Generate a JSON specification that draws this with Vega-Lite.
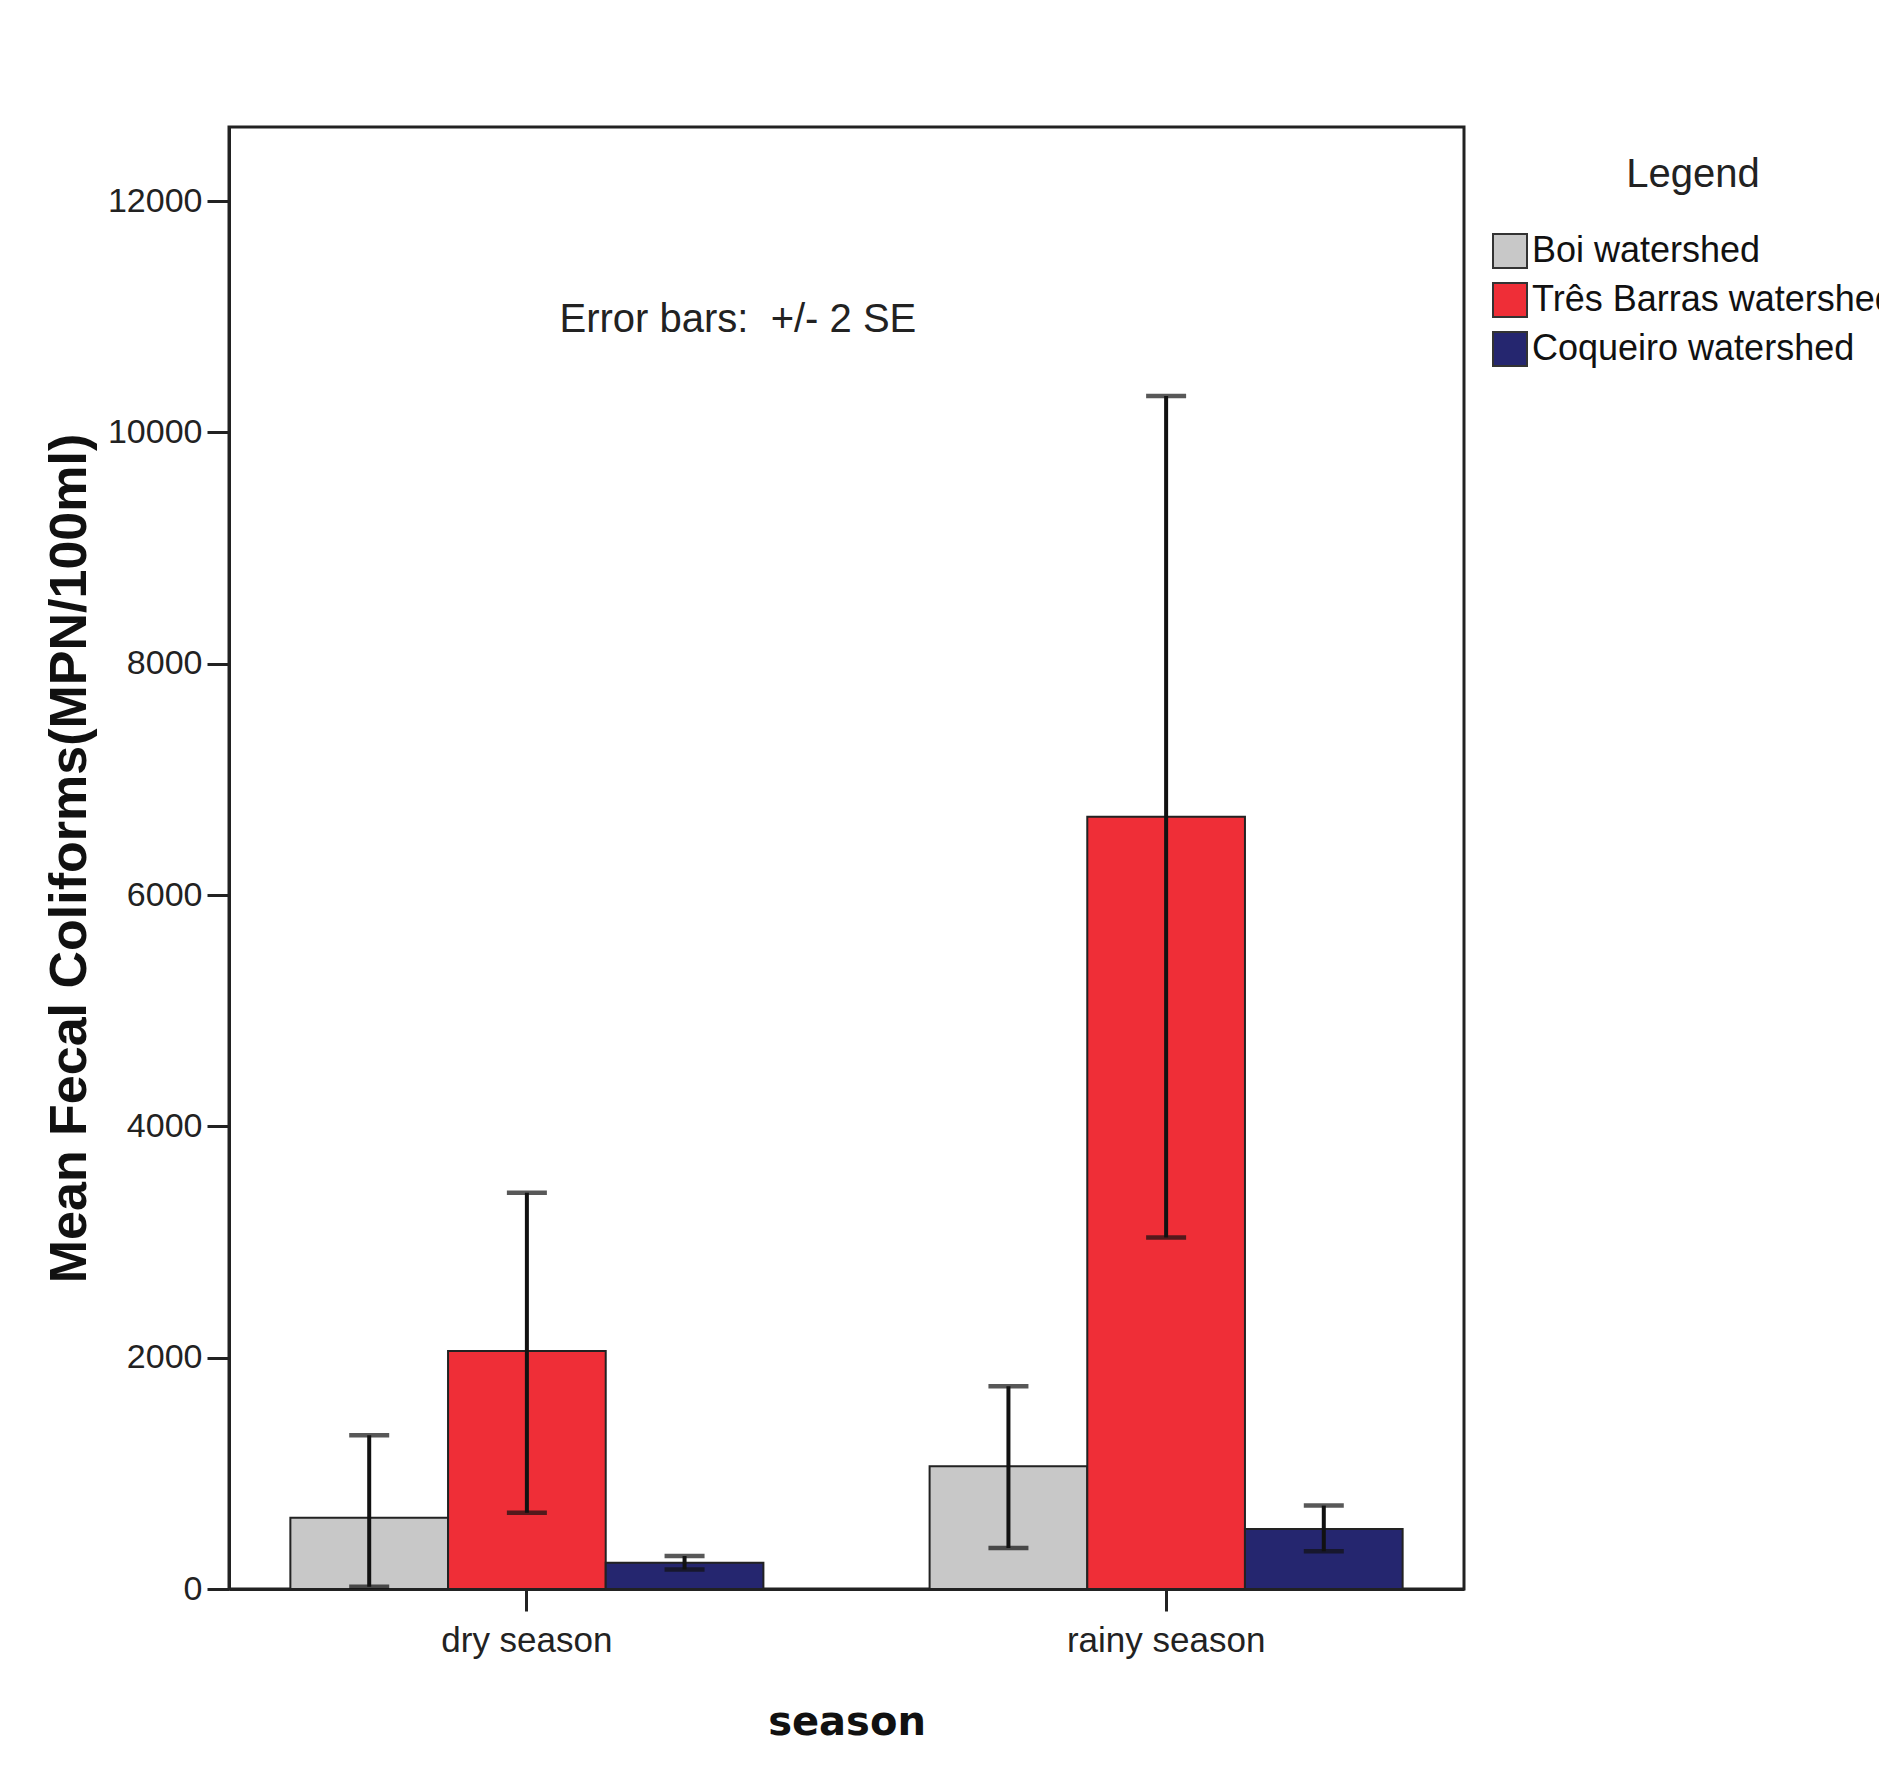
{
  "$schema": "https://vega.github.io/schema/vega-lite/v6.json",
  "width": 1235,
  "height": 1462,
  "autosize": {"type": "none"},
  "padding": {"left": 229, "top": 127, "right": 415, "bottom": 179},
  "background": "white",
  "config": {
    "view": {"stroke": "#222", "strokeWidth": 3},
    "font": "Liberation Sans",
    "axis": {"labelColor": "#222", "titleColor": "#111", "domainColor": "#222", "tickColor": "#222", "grid": false}
  },
  "data": {
    "values": [
      {"season": "dry season", "watershed": "Boi watershed", "mean": 616, "lower": 20, "upper": 1329},
      {"season": "dry season", "watershed": "Três Barras watershed", "mean": 2058, "lower": 660, "upper": 3426},
      {"season": "dry season", "watershed": "Coqueiro watershed", "mean": 227, "lower": 169, "upper": 285},
      {"season": "rainy season", "watershed": "Boi watershed", "mean": 1061, "lower": 354, "upper": 1752},
      {"season": "rainy season", "watershed": "Três Barras watershed", "mean": 6677, "lower": 3040, "upper": 10314},
      {"season": "rainy season", "watershed": "Coqueiro watershed", "mean": 519, "lower": 326, "upper": 721}
    ]
  },
  "encoding": {
    "x": {
      "field": "season", "type": "nominal",
      "scale": {"paddingInner": 0.26, "paddingOuter": 0.096},
      "axis": {
        "title": "season", "labelAngle": 0,
        "labelFontSize": 35, "labelPadding": 12, "labelLimit": 0,
        "tickSize": 22, "tickWidth": 3, "domainWidth": 3,
        "titleFont": "DejaVu Sans", "titleFontWeight": "bold", "titleFontSize": 40, "titlePadding": 44
      }
    },
    "xOffset": {
      "field": "watershed", "type": "nominal",
      "scale": {"domain": ["Boi watershed", "Três Barras watershed", "Coqueiro watershed"]}
    }
  },
  "layer": [
    {
      "mark": {"type": "bar", "stroke": "#222", "strokeWidth": 2},
      "encoding": {
        "y": {
          "field": "mean", "type": "quantitative",
          "scale": {"domain": [0, 12640], "nice": false},
          "axis": {
            "title": "Mean Fecal Coliforms(MPN/100ml)",
            "values": [0, 2000, 4000, 6000, 8000, 10000, 12000],
            "format": "d",
            "labelFontSize": 34, "labelPadding": 5,
            "tickSize": 22, "tickWidth": 3, "domainWidth": 3,
            "titleFontSize": 52, "titleFontWeight": "bold", "titlePadding": 11
          }
        },
        "color": {
          "field": "watershed", "type": "nominal",
          "scale": {
            "domain": ["Boi watershed", "Três Barras watershed", "Coqueiro watershed"],
            "range": ["#c8c8c8", "#ef2e37", "#25266f"]
          },
          "legend": {
            "title": "Legend", "orient": "right", "offset": 0, "padding": 28,
            "titleFontSize": 40, "titleFontWeight": "normal", "titleAnchor": "middle", "titleAlign": "center", "titlePadding": 38, "titleColor": "#222",
            "labelFontSize": 36, "labelColor": "#111", "labelOffset": 4, "labelLimit": 600,
            "symbolType": "square", "symbolSize": 1156, "symbolStrokeColor": "#333", "symbolStrokeWidth": 2, "symbolOpacity": 1,
            "rowPadding": 7
          }
        }
      }
    },
    {
      "mark": {"type": "rule", "color": "#111", "strokeWidth": 4},
      "encoding": {
        "y": {"field": "lower", "type": "quantitative"},
        "y2": {"field": "upper"}
      }
    },
    {
      "mark": {"type": "tick", "orient": "horizontal", "color": "#111", "size": 40, "thickness": 4.5},
      "encoding": {"y": {"field": "upper", "type": "quantitative"}}
    },
    {
      "mark": {"type": "tick", "orient": "horizontal", "color": "#111", "size": 40, "thickness": 4.5},
      "encoding": {"y": {"field": "lower", "type": "quantitative"}}
    },
    {
      "data": {"values": [{"label": "Error bars:\u00a0 +/- 2 SE", "season": "dry season", "ypos": 10970}]},
      "mark": {"type": "text", "fontSize": 40, "color": "#222", "dx": 211, "baseline": "middle", "align": "center"},
      "encoding": {
        "x": {"field": "season", "type": "nominal"},
        "xOffset": null,
        "y": {"field": "ypos", "type": "quantitative"},
        "text": {"field": "label"}
      }
    }
  ]
}
